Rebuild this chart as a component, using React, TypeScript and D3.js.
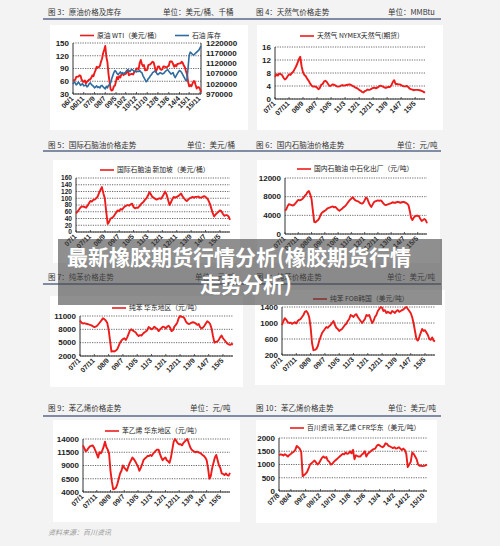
import React from 'react';
import * as d3 from 'd3';

// ---------------- data ----------------
const wtiLabels = ['06/1', '06/11', '07/9', '08/7', '09/5', '10/2', '10/12', '11/10', '12/8', '13/6', '14/4', '15/1', '15/11'];
const wtiTicks = [30, 60, 90, 120, 150];
const stockTicks = [970000, 1020000, 1070000, 1120000, 1170000, 1220000];
const wtiPrice = [
  63, 62, 63, 70, 71, 71, 74, 73, 64, 59, 59, 62,
  55, 59, 61, 64, 64, 68, 74, 72, 80, 86, 94, 92,
  93, 96, 106, 113, 126, 134, 143, 117, 105, 77, 58, 41,
  38, 40, 48, 50, 60, 70, 65, 72, 69, 76, 78, 74,
  79, 77, 82, 85, 74, 76, 77, 77, 76, 82, 84, 90,
  90, 88, 103, 110, 101, 96, 98, 86, 86, 87, 98, 99,
  100, 103, 106, 104, 94, 82, 88, 95, 95, 89, 87, 88,
  95, 95, 93, 92, 95, 96, 106, 107, 106, 101, 94, 98,
  95, 101, 101, 102, 102, 106, 103, 97, 93, 84, 76, 59,
  48, 51, 48, 54, 60, 60, 51, 43, 46, 46, 42, 34,
];
const crudeStock = [
  1018000, 1030000, 1025000, 1015000, 1020000, 1028000, 1022000, 1012000, 1018000, 1020000, 1010000, 1012000,
  1015000, 1005000, 1010000, 1020000, 1025000, 1018000, 1012000, 1008000, 1000000, 1005000, 1010000, 1002000,
  1005000, 1000000, 1010000, 1012000, 1005000, 1000000, 995000, 1008000, 1000000, 1012000, 1018000, 1025000,
  1045000, 1060000, 1075000, 1085000, 1080000, 1070000, 1065000, 1072000, 1078000, 1070000, 1075000, 1068000,
  1072000, 1078000, 1085000, 1090000, 1085000, 1080000, 1088000, 1090000, 1085000, 1080000, 1082000, 1078000,
  1082000, 1080000, 1085000, 1078000, 1075000, 1060000, 1050000, 1040000, 1030000, 1035000, 1045000, 1050000,
  1060000, 1065000, 1075000, 1078000, 1082000, 1080000, 1070000, 1065000, 1070000, 1075000, 1072000, 1068000,
  1070000, 1075000, 1082000, 1085000, 1090000, 1082000, 1075000, 1068000, 1070000, 1075000, 1060000, 1050000,
  1060000, 1070000, 1078000, 1085000, 1082000, 1075000, 1065000, 1055000, 1045000, 1035000, 1040000, 1100000,
  1160000, 1175000, 1170000, 1165000, 1160000, 1165000, 1170000, 1175000, 1180000, 1185000, 1195000, 1205000,
];

const monthLabels = ['07/1', '07/11', '08/9', '09/7', '10/5', '11/3', '12/1', '12/11', '13/9', '14/7', '15/5'];

const gasTicks = [0, 4, 8, 12, 16];
const gasPrice = [
  6.8, 7.6, 7.2, 7.8, 7.7, 7.4, 6.6, 6.0, 6.3, 7.0, 7.6, 7.4,
  8.0, 8.4, 9.2, 10.0, 11.0, 12.2, 13.0, 10.0, 8.2, 7.4, 7.0, 6.2,
  5.6, 4.8, 4.2, 3.8, 3.9, 3.8, 3.5, 3.0, 3.4, 4.4, 4.6, 5.4,
  5.6, 5.2, 4.5, 4.0, 4.1, 4.5, 4.4, 4.2, 3.9, 3.8, 3.9, 4.1,
  4.3, 4.1, 4.2, 4.3, 4.4, 4.5, 4.4, 4.1, 3.9, 3.6, 3.4, 3.2,
  2.8, 2.6, 2.2, 2.0, 2.4, 2.6, 2.9, 2.8, 2.9, 3.2, 3.4, 3.5,
  3.3, 3.5, 3.8, 4.1, 4.0, 3.8, 3.6, 3.4, 3.6, 3.7, 3.7, 4.2,
  5.2, 5.8, 4.6, 4.6, 4.5, 4.5, 4.3, 4.0, 3.9, 3.9, 4.0, 3.7,
  3.2, 3.0, 2.9, 2.7, 2.8, 2.8, 2.8, 2.7, 2.6, 2.4, 2.2, 1.9,
];

const naphthaSgTicks = [0, 20, 40, 60, 80, 100, 120, 140, 160];
const naphthaSg = [
  55, 60, 66, 72, 76, 75, 74, 72, 78, 85, 92, 90,
  95, 96, 100, 105, 115, 125, 133, 115, 100, 60, 24, 30,
  40, 42, 45, 52, 58, 64, 62, 68, 66, 72, 76, 78,
  80, 78, 82, 84, 74, 70, 72, 72, 76, 82, 86, 90,
  96, 100, 108, 118, 112, 104, 102, 98, 96, 98, 100, 98,
  104, 112, 120, 110, 95, 80, 88, 98, 104, 102, 104, 106,
  110, 114, 106, 100, 95, 92, 96, 100, 102, 104, 102, 104,
  104, 105, 102, 102, 104, 106, 104, 100, 94, 84, 70, 56,
  46, 52, 56, 60, 64, 62, 54, 48, 50, 50, 46, 36,
];

const naphthaCnTicks = [0, 4000, 8000, 12000];
const naphthaCn = [
  5000, 5300, 6000, 6400, 6300, 6200, 6100, 6300, 6600, 7000, 7300, 7200,
  7300, 7500, 7800, 8200, 8500, 9000, 9200, 8500, 7500, 5000, 2600, 2500,
  2800, 3000, 3500, 4200, 4600, 4800, 5000, 5200, 5500, 5600, 5700, 5800,
  5900, 5700, 5800, 5500, 5200, 5000, 5200, 5400, 5700, 5900, 6200, 6600,
  7000, 7300, 7600, 7900, 7500, 7200, 7100, 7000, 6800, 6600, 6500, 6700,
  7200, 7800, 7600, 6800, 6200, 5800, 6300, 6800, 7000, 7100, 7200, 7100,
  7200, 7000, 6600, 6300, 6200, 6300, 6400, 6500, 6600, 6800, 6700, 6700,
  6800, 6900, 6800, 6700, 6800, 6900, 6800, 6700, 6500, 6200, 5000, 3500,
  3000, 3500, 3800, 3900, 3900, 3800, 3200, 2800, 3000, 3200, 3000, 2300,
];

const benzeneEcTicks = [2000, 5000, 8000, 11000];
const benzeneEc = [
  10000, 9500, 9300, 9400, 9300, 9200, 9100, 9000, 8900, 8700, 8500, 8600,
  8800, 9200, 9600, 10000, 10500, 10300, 10000, 9500, 8000, 5500, 3000, 3100,
  3000, 3200, 3500, 4200, 5000, 5500, 5800, 6000, 5600, 6200, 7000, 7800,
  8000, 7700, 7500, 7300, 6800, 6500, 6700, 6600, 7000, 7300, 7500, 7800,
  8500, 8300, 8000, 8200, 8600, 8300, 8100, 7600, 8000, 8300, 8600, 8500,
  8200, 8600, 8800, 8400, 7600, 7800, 8600, 9000, 9500, 10500, 11000, 10800,
  10800, 10500, 9800, 9400, 9200, 9300, 9500, 9600, 9500, 9300, 9000, 9200,
  8500, 8200, 8400, 8800, 9300, 9800, 9600, 9200, 8200, 6500, 5000, 5200,
  5200, 5600, 6200, 6600, 6000, 5600, 5200, 4800, 4600, 4500, 4700, 4600,
];

const benzeneKrTicks = [200, 600, 1000, 1400];
const benzeneKr = [
  950, 1050, 1120, 1080, 1020, 1000, 1010, 980, 1000, 1020, 990, 1050,
  1080, 1100, 1150, 1200, 1280, 1300, 1250, 1150, 900, 500, 320, 330,
  350, 420, 550, 650, 750, 800, 850, 900, 880, 920, 950, 1000,
  1050, 950, 880, 850, 800, 830, 850, 900, 950, 980, 1050, 1100,
  1200, 1180, 1150, 1200, 1220, 1150, 1100, 1050, 1000, 1050, 1100, 1200,
  1180, 1200, 1100, 1000, 1050, 1150, 1200, 1300, 1350, 1400, 1380, 1300,
  1320, 1250, 1280, 1260, 1240, 1300, 1280, 1250, 1300, 1320, 1280, 1300,
  1320, 1340, 1380, 1400, 1350, 1300, 1250, 1150, 1000, 800, 600, 560,
  650, 750, 850, 800, 820, 760, 700, 600, 580, 640, 560, 540,
];

const styreneEcTicks = [4000, 6500, 9000, 11500, 14000];
const styreneEc = [
  12800, 12200, 11700, 11900, 12300, 12600, 12700, 12800, 12400, 11800, 11200, 10500,
  11500, 11300, 11800, 12500, 13500, 12500, 12000, 11200, 8000, 6000, 4500, 4600,
  4800, 5500, 6500, 7500, 8000, 9000, 8600, 8300, 8000, 8800, 9500, 10000,
  10500, 10200, 9800, 9300, 8800, 8000, 8500, 9200, 10000, 10300, 10500, 10800,
  10800, 11000, 10800, 11200, 11500, 11800, 12000, 12000, 11200, 10500, 10000, 10300,
  10500, 10000, 9800, 9500, 10500, 12000, 13500, 14000, 13600, 13200, 13000, 13000,
  12800, 13200, 13500, 13800, 14000, 13200, 12500, 12000, 11800, 11600, 11500, 11600,
  11500, 11400, 11200, 11000, 10800, 10500, 10000, 8500, 6500, 7000, 8500, 9500,
  10500, 11000, 10000, 9000, 8500, 7500, 7400, 7200, 7500, 7200, 7100, 7600,
];

const styreneCfrLabels = ['07/8', '08/4', '09/2', '09/12', '10/10', '11/8', '12/6', '13/4', '14/2', '14/12', '15/10'];
const styreneCfrTicks = [0, 500, 1000, 1500, 2000];
const styreneCfr = [
  1350, 1380, 1370, 1340, 1390, 1350, 1300, 1360, 1400, 1450, 1480, 1550,
  1700, 1650, 1600, 1480, 560, 600, 650, 720, 850, 1000, 1050, 1100,
  1150, 1080, 1000, 1050, 1150, 1250, 1300, 1250, 1280, 1150, 1100, 1000,
  1020, 1100, 1150, 1200, 1250, 1300, 1350, 1400, 1380, 1450, 1400, 1420,
  1500, 1420, 1550, 1200, 1350, 1320, 1300, 1300, 1380, 1420, 1500, 1300,
  1400, 1450, 1500, 1550, 1580, 1600, 1700, 1750, 1720, 1680, 1650, 1700,
  1800, 1780, 1700, 1680, 1650, 1620, 1650, 1600, 1620, 1650, 1600, 1550,
  1600, 1550, 1400, 900, 1000, 1100, 1450, 1400, 1300, 1200, 1000, 950,
  960, 940, 950, 970, 1000,
];

// ---------------- layout ----------------
const RED = '#ee1b1b';
const BLUE = '#2f6c9f';
const CJK = '"Noto Sans CJK SC", "Noto Sans", sans-serif';
const NUM = '"Liberation Sans", Arial, sans-serif';

type Series = { values: number[]; color: string; right?: boolean; legend: string; lx: number };
type Cfg = {
  title: string; unit: string; tx: number; ux: number; ty: number;
  panel: [number, number, number, number];
  plot: { l: number; r: number; t: number; b: number };
  ticks: number[]; ticks2?: number[]; tickFont?: number;
  labels: string[]; start: [number, number];
  series: Series[]; legendY: number;
  box?: boolean;
};

const charts: Cfg[] = [
  {
    title: '图 3：原油价格及库存', unit: '单位：美元/桶、千桶', tx: 48, ux: 163, ty: 15,
    panel: [50, 25, 198, 105], plot: { l: 73, r: 201, t: 43, b: 94 },
    ticks: wtiTicks, ticks2: stockTicks, labels: wtiLabels, start: [6, 1], legendY: 35.5, box: true,
    series: [
      { values: wtiPrice, color: RED, legend: '原油 WTI（美元/桶）', lx: 80 },
      { values: crudeStock, color: BLUE, right: true, legend: '石油 库存', lx: 175 },
    ],
  },
  {
    title: '图 4：天然气价格走势', unit: '单位：MMBtu', tx: 256, ux: 388, ty: 15,
    panel: [257, 25, 186, 105], plot: { l: 275, r: 425, t: 47, b: 99 },
    ticks: gasTicks, labels: monthLabels, start: [7, 1], legendY: 36,
    series: [{ values: gasPrice, color: RED, legend: '天然气 NYMEX天然气(期货)', lx: 300 }],
  },
  {
    title: '图 5：国际石脑油价格走势', unit: '单位：美元/桶', tx: 48, ux: 187, ty: 148,
    panel: [53, 160, 187, 103], plot: { l: 76, r: 230, t: 178, b: 232 },
    ticks: naphthaSgTicks, tickFont: 6.6, labels: monthLabels, start: [7, 1], legendY: 170,
    series: [{ values: naphthaSg, color: RED, legend: '国际石脑油 新加坡（美元/桶）', lx: 100 }],
  },
  {
    title: '图 6：国内石脑油价格走势', unit: '单位：元/吨', tx: 256, ux: 397, ty: 148,
    panel: [257, 160, 183, 103], plot: { l: 285, r: 427, t: 178, b: 234 },
    ticks: naphthaCnTicks, labels: monthLabels, start: [7, 1], legendY: 169,
    series: [{ values: naphthaCn, color: RED, legend: '国内石脑油 中石化出厂（元/吨）', lx: 297 }],
  },
  {
    title: '图 7：纯苯价格走势', unit: '单位：元/吨', tx: 48, ux: 195, ty: 280,
    panel: [50, 296, 193, 91], plot: { l: 80, r: 233, t: 316, b: 356 },
    ticks: benzeneEcTicks, labels: monthLabels, start: [7, 1], legendY: 308,
    series: [{ values: benzeneEc, color: RED, legend: '纯苯 华东地区（元/吨）', lx: 112 }],
  },
  {
    title: '图 8：纯苯价格走势', unit: '单位：美元/吨', tx: 256, ux: 387, ty: 280,
    panel: [255, 290, 190, 95], plot: { l: 282, r: 435, t: 307, b: 355 },
    ticks: benzeneKrTicks, labels: monthLabels, start: [7, 1], legendY: 299,
    series: [{ values: benzeneKr, color: RED, legend: '纯苯 FOB韩国（美元/吨）', lx: 313 }],
  },
  {
    title: '图 9：苯乙烯价格走势', unit: '单位：元/吨', tx: 48, ux: 190, ty: 411,
    panel: [53, 420, 187, 102], plot: { l: 83, r: 230, t: 439, b: 492 },
    ticks: styreneEcTicks, labels: monthLabels, start: [7, 1], legendY: 431,
    series: [{ values: styreneEc, color: RED, legend: '苯乙烯 华东地区（元/吨）', lx: 105 }],
  },
  {
    title: '图 10：苯乙烯价格走势', unit: '单位：美元/吨', tx: 256, ux: 388, ty: 411,
    panel: [256, 420, 181, 103], plot: { l: 279, r: 427, t: 438, b: 491 },
    ticks: styreneCfrTicks, labels: styreneCfrLabels, start: [7, 8], legendY: 428,
    series: [{ values: styreneCfr, color: RED, legend: '百川资讯 苯乙烯 CFR华东（美元/吨）', lx: 290 }],
  },
];

function monthOffset(label: string, start: [number, number]) {
  const [yy, mm] = label.split('/').map(Number);
  return (yy - start[0]) * 12 + (mm - start[1]);
}

function Chart({ cfg }: { cfg: Cfg }) {
  const { plot } = cfg;
  const n = cfg.series[0].values.length;
  const x = d3.scaleLinear().domain([0, n - 1]).range([plot.l, plot.r]);
  const y = d3.scaleLinear().domain([cfg.ticks[0], cfg.ticks[cfg.ticks.length - 1]]).range([plot.b, plot.t]);
  const y2 = cfg.ticks2
    ? d3.scaleLinear().domain([cfg.ticks2[0], cfg.ticks2[cfg.ticks2.length - 1]]).range([plot.b, plot.t])
    : null;
  const [px, py, pw, ph] = cfg.panel;
  const tf = cfg.tickFont ?? 8;
  return (
    <g>
      <rect x={px} y={py} width={pw} height={ph} fill="#fff" />
      {cfg.ticks.map((t) => (
        <line key={'g' + t} x1={plot.l} x2={plot.r} y1={y(t)} y2={y(t)} stroke="#444" strokeWidth={0.8}
          strokeDasharray="1.2,1.2" />
      ))}
      {cfg.ticks.map((t) => (
        <text key={'y' + t} x={plot.l - 4} y={y(t) + tf * 0.35} textAnchor="end" fontFamily={NUM} fontWeight="bold"
          fontSize={tf} fill="#222">{t}</text>
      ))}
      {y2 && cfg.ticks2!.map((t) => (
        <text key={'y2' + t} x={plot.r + 5} y={y2(t) + 2.8} textAnchor="start" fontFamily={NUM} fontWeight="bold"
          fontSize={8} fill="#222">{t}</text>
      ))}
      <line x1={plot.l} x2={plot.l} y1={plot.t} y2={plot.b} stroke="#333" strokeWidth={1} />
      <line x1={plot.l} x2={plot.r} y1={plot.b} y2={plot.b} stroke="#333" strokeWidth={1} />
      {cfg.box && <line x1={plot.r} x2={plot.r} y1={plot.t} y2={plot.b} stroke="#333" strokeWidth={1} />}
      {cfg.labels.map((lb) => {
        const xx = x(monthOffset(lb, cfg.start));
        return (
          <g key={'x' + lb}>
            <line x1={xx} x2={xx} y1={plot.b} y2={plot.b - 2} stroke="#333" strokeWidth={0.8} />
            <text transform={`translate(${xx + 1},${plot.b + 5}) rotate(-45)`} textAnchor="end" fontFamily={NUM}
              fontWeight="bold" fontSize={7} fill="#222">{lb}</text>
          </g>
        );
      })}
      {cfg.series.map((s, si) => {
        const sc = s.right && y2 ? y2 : y;
        const path = d3.line<number>().x((_, i) => x(i)).y((v) => sc(v))(s.values) || '';
        return <path key={'s' + si} d={path} fill="none" stroke={s.color} strokeWidth={s.right ? 1.6 : 1.9}
          strokeLinejoin="round" />;
      })}
      {cfg.series.map((s, si) => (
        <g key={'l' + si}>
          <line x1={s.lx} x2={s.lx + 14} y1={cfg.legendY} y2={cfg.legendY} stroke={s.color} strokeWidth={1.6} />
          <text x={s.lx + 17} y={cfg.legendY + 2.4} fontFamily={CJK} fontSize={6.8} fill="#222">{s.legend}</text>
        </g>
      ))}
      <text x={cfg.tx} y={cfg.ty} fontFamily={CJK} fontSize={7.5} fill="#333">{cfg.title}</text>
      <text x={cfg.ux} y={cfg.ty} fontFamily={CJK} fontSize={7.5} fill="#333">{cfg.unit}</text>
    </g>
  );
}

const ruleYs = [19, 151, 284, 416];

export default function App() {
  return (
    <svg width={500} height={546} style={{ position: 'absolute', left: 0, top: 0 }}>
      <rect x={0} y={0} width={500} height={546} fill="#f3f3f3" />
      {ruleYs.map((ry) => (
        <line key={ry} x1={43} x2={441} y1={ry} y2={ry} stroke="#5a6a8a" strokeWidth={1.4} />
      ))}
      {charts.map((c, i) => <Chart key={i} cfg={c} />)}
      <text x={48} y={535} fontFamily={CJK} fontSize={7} fill="#999" fontStyle="italic">资料来源：百川资讯</text>
      <rect x={58} y={239} width={384} height={66} fill="#444" opacity={0.6} />
      <text x={67} y={265} fontFamily={CJK} fontWeight="bold" fontSize={21} fill="#fff">最新橡胶期货行情分析(橡胶期货行情</text>
      <text x={200} y={292} fontFamily={CJK} fontWeight="bold" fontSize={21} fill="#fff">走势分析)</text>
    </svg>
  );
}
